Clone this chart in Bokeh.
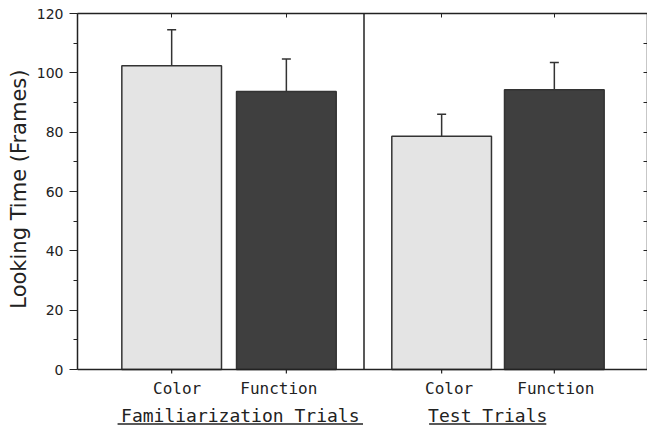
from bokeh.plotting import figure
from bokeh.models import (ColumnDataSource, Range1d, FixedTicker, LinearAxis,
                          Span, Whisker, TeeHead, Title)
from bokeh.core.properties import value
from bokeh.embed import file_html
from bokeh.resources import INLINE

# ---- data ----
groups = ["Familiarization Trials", "Test Trials"]
conditions = ["Color", "Function", "Color", "Function"]
means = [102.4, 93.7, 78.6, 94.3]
errors = [12.1, 11.0, 7.4, 9.2]
y_ticks = [0, 20, 40, 60, 80, 100, 120]
y_minor = list(range(0, 121, 10))
y_title = "Looking Time (Frames)"

# ---- layout constants ----
positions = [0.94, 2.085, 3.635, 4.76]      # bar centres on a numeric x scale
label_shift = [0.055, -0.075, 0.075, 0.015]  # condition-label nudges
divider_x = 2.86
group_label_x = [1.625, 4.095]
underline_x0 = [0.40, 3.51]
underline_x1 = [2.85, 4.68]
bar_colors = ["#e4e4e4", "#3f3f3f", "#e4e4e4", "#3f3f3f"]

W, H = 647, 430
TOP, BOTTOM_AXIS = 13, 369                   # pixel rows of 120 and 0
ppu = (BOTTOM_AXIS - TOP) / 120.0            # pixels per unit
y_min = -(H - BOTTOM_AXIS) / ppu

def px(n):
    return n / ppu

upper = [m + e for m, e in zip(means, errors)]
src = ColumnDataSource(dict(x=positions, top=means, upper=upper, color=bar_colors,
                            cond=conditions))

p = figure(width=W, height=H, output_backend="svg", toolbar_location=None,
           x_range=Range1d(0, 5.69), y_range=Range1d(y_min, 120),
           min_border_left=77, min_border_right=0, min_border_top=TOP,
           min_border_bottom=0, x_axis_type=None, y_axis_type=None)
p.grid.visible = False
p.outline_line_color = None
p.background_fill_color = "white"
p.border_fill_color = "white"

ink = "#222222"

p.vbar(x="x", top="top", bottom=0, width=0.995, source=src,
       fill_color="color", line_color="#333333", line_width=1.5)

p.add_layout(Whisker(source=src, base="x", upper="upper", lower="top",
                     dimension="height", line_color="#333333", line_width=1.5,
                     upper_head=TeeHead(size=9, line_color="#333333", line_width=1.5),
                     lower_head=None))

# baseline (y = 0) and divider
p.add_layout(Span(location=0, dimension="width", line_color=ink, line_width=1.5))
p.segment(x0=[divider_x], y0=[0], x1=[divider_x], y1=[120], line_color=ink, line_width=1.5)

# bottom tick marks at bar centres
p.segment(x0=positions, y0=[0] * len(positions), x1=positions,
          y1=[-px(4)] * len(positions), line_color=ink, line_width=1.2)

# condition labels
label_x = [x + s for x, s in zip(positions, label_shift)]
p.text(x=label_x, y=[-px(18.5)] * len(positions), text=conditions,
       text_align="center", text_baseline="alphabetic",
       text_font=value("DejaVu Sans Mono"), text_font_size="16px", text_color=ink)

# group labels, underlined
p.text(x=group_label_x, y=[-px(45.5)] * len(groups), text=groups,
       text_align="center", text_baseline="alphabetic",
       text_font=value("DejaVu Sans Mono"), text_font_size="18px", text_color=ink)
p.segment(x0=underline_x0, y0=[-px(54.5)] * 2, x1=underline_x1, y1=[-px(54.5)] * 2,
          line_color=ink, line_width=1.5)

# left axis
yax = LinearAxis(ticker=FixedTicker(ticks=y_ticks, minor_ticks=y_minor), bounds=(0, 120))
yax.major_label_text_font = "DejaVu Sans"
yax.major_label_text_font_size = "14px"
yax.major_label_text_color = ink
yax.major_label_standoff = 6
yax.major_tick_out = 8
yax.major_tick_in = 0
yax.minor_tick_out = 4
yax.minor_tick_in = 0
yax.axis_line_width = 1.5
yax.axis_line_color = ink
yax.major_tick_line_color = ink
yax.minor_tick_line_color = ink
p.add_layout(yax, "left")

# y title, placed beside the 0-120 part of the axis
p.add_layout(Title(text=y_title, align="right", offset=56, standoff=6,
                   text_font="DejaVu Sans", text_font_size="21px",
                   text_font_style="normal", text_color=ink), "left")

# right axis (inner ticks only)
rax = LinearAxis(ticker=FixedTicker(ticks=y_minor, minor_ticks=[]), bounds=(0, 120))
rax.major_label_overrides = {t: "" for t in y_minor}
rax.major_tick_in = 4
rax.major_tick_out = 0
rax.major_label_standoff = 0
rax.axis_line_color = ink
rax.axis_line_width = 1.5
rax.major_tick_line_color = ink
p.add_layout(rax, "right")

# top axis (inner ticks only)
tax = LinearAxis(ticker=FixedTicker(ticks=positions, minor_ticks=[]))
tax.major_label_overrides = {t: "" for t in positions}
tax.major_tick_in = 4
tax.major_tick_out = 0
tax.major_label_standoff = 0
tax.axis_line_color = ink
tax.axis_line_width = 1.5
tax.major_tick_line_color = ink
p.add_layout(tax, "above")

open("out.html", "w").write(file_html(p, INLINE))
